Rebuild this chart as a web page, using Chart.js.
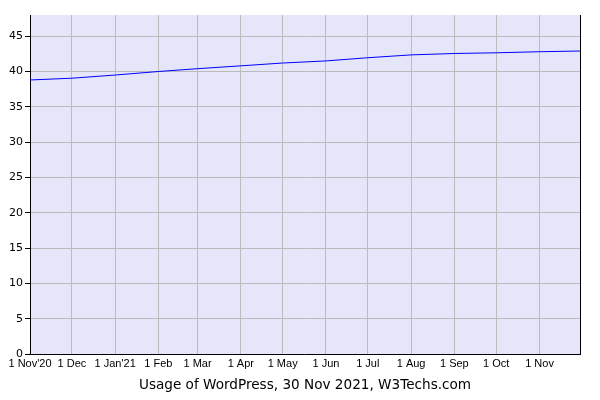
<!DOCTYPE html>
<html>
<head>
<meta charset="utf-8">
<script src="https://cdn.jsdelivr.net/npm/chart.js@4/dist/chart.umd.min.js"></script>
<style>
html,body{margin:0;padding:0;background:#fff;}
#wrap{width:600px;height:400px;}
</style>
</head>
<body>
<div id="wrap"><canvas id="c" width="600" height="400"></canvas></div>
<script>
// days since 1 Nov 2020
const dayOffsets = [0, 30, 61, 92, 120, 151, 181, 212, 242, 273, 304, 334, 365, 394];
const usage = [38.8, 39.05, 39.5, 40.0, 40.4, 40.8, 41.2, 41.5, 41.95, 42.35, 42.55, 42.65, 42.8, 42.9];
const tickDays = [0, 30, 61, 92, 120, 151, 181, 212, 242, 273, 304, 334, 365];
const tickLabels = ["1 Nov'20", "1 Dec", "1 Jan'21", "1 Feb", "1 Mar", "1 Apr", "1 May", "1 Jun", "1 Jul", "1 Aug", "1 Sep", "1 Oct", "1 Nov"];
const titleText = "Usage of WordPress, 30 Nov 2021, W3Techs.com";

const bgPlugin = {
  id: 'bg',
  beforeDraw(chart) {
    const a = chart.chartArea, ctx = chart.ctx;
    ctx.save();
    ctx.fillStyle = '#e6e6fa';
    ctx.fillRect(a.left, a.top, a.right - a.left, a.bottom - a.top);
    ctx.restore();
  }
};

new Chart(document.getElementById('c'), {
  type: 'line',
  data: {
    datasets: [{
      data: dayOffsets.map((d, i) => ({x: d, y: usage[i]})),
      borderColor: '#0000ff',
      borderWidth: 1,
      pointRadius: 0,
      tension: 0,
      fill: false
    }]
  },
  options: {
    responsive: false,
    animation: false,
    devicePixelRatio: 1,
    layout: {padding: {left: 0, right: 20, top: 15, bottom: 0}},
    plugins: {legend: {display: false}, tooltip: {enabled: false}},
    scales: {
      x: {
        type: 'linear',
        min: 0,
        max: 394,
        afterBuildTicks(scale) { scale.ticks = tickDays.map(v => ({value: v})); },
        afterFit(scale) { scale.height = 46; },
        ticks: {
          autoSkip: false,
          maxRotation: 0,
          padding: 3,
          color: '#000',
          font: {family: 'Liberation Sans', size: 11},
          callback(v) { const i = tickDays.indexOf(v); return i >= 0 ? tickLabels[i] : ''; }
        },
        grid: {color: '#bbbbbb', drawTicks: false, lineWidth: 1},
        border: {color: '#000', width: 1},
        title: {
          display: true,
          text: titleText,
          color: '#000',
          font: {family: 'DejaVu Sans', size: 13.6},
          padding: {top: 0, bottom: 6}
        }
      },
      y: {
        min: 0,
        max: 48,
        afterFit(scale) { scale.width = 30; },
        ticks: {
          stepSize: 5,
          includeBounds: false,
          padding: 2,
          color: '#000',
          font: {family: 'DejaVu Sans', size: 11}
        },
        grid: {color: '#bbbbbb', tickColor: '#000', tickLength: 5, lineWidth: 1},
        border: {color: '#000', width: 1}
      },
      y2: {
        position: 'right',
        min: 0,
        max: 48,
        afterFit(scale) { scale.width = 0; },
        ticks: {display: false},
        grid: {display: false, drawOnChartArea: false, drawTicks: false},
        border: {display: true, color: '#000', width: 1}
      }
    }
  },
  plugins: [bgPlugin]
});
</script>
</body>
</html>
